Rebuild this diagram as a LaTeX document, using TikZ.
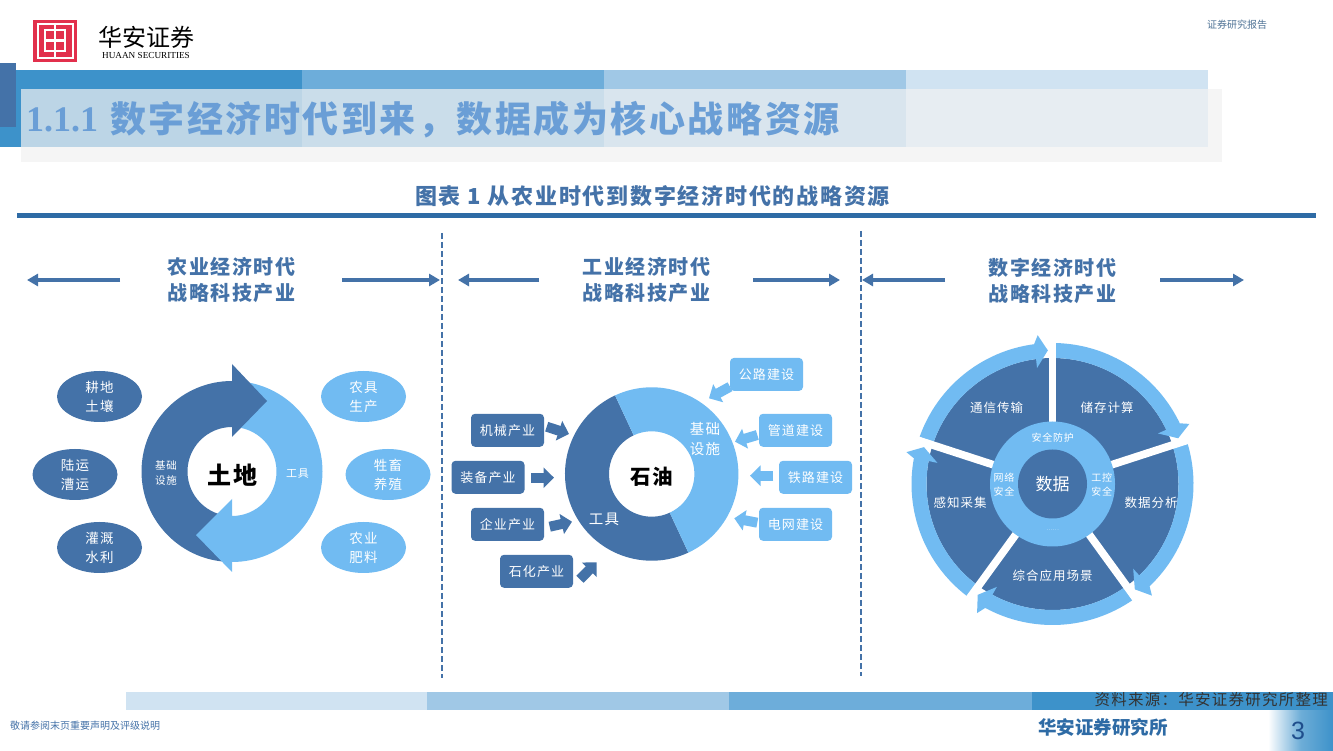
\documentclass[tikz,border=0pt]{standalone}
\usepackage{fontspec}
\setmainfont{Noto Sans CJK SC}
\newfontfamily\lat{Liberation Sans}
\newfontfamily\latser{Liberation Serif}
\newfontfamily\spc[LetterSpace=8]{Noto Sans CJK SC}
\newcommand{\spcb}{\spc\bfseries}
\newfontfamily\titlefont[LetterSpace=7]{Noto Sans CJK SC}
\newfontfamily\titlenum{Liberation Serif}
\usetikzlibrary{arrows.meta,shapes.geometric}
\definecolor{dk}{HTML}{4472A8}
\definecolor{lt}{HTML}{71BBF2}
\definecolor{rule}{HTML}{2E6BA5}
\definecolor{b1}{HTML}{3D92CA}
\definecolor{b2}{HTML}{6DADDA}
\definecolor{b3}{HTML}{A0C8E6}
\definecolor{b4}{HTML}{D0E3F2}
\definecolor{logored}{HTML}{E2304C}
\definecolor{pgblue}{HTML}{1F4E8C}
\definecolor{ttl}{HTML}{6A9ED6}
\newcommand{\fs}[2]{\fontsize{#1}{#2}\selectfont}
\tikzset{
  x=1pt,y=1pt,
  lab/.style={inner sep=0pt,align=center,text=white},
  el/.style={ellipse,minimum width=85pt,minimum height=51pt,inner sep=0pt,align=center,text=white,font=\fs{13.5}{19}\spc},
  rbox/.style={rounded corners=4pt,minimum width=73pt,minimum height=33pt,inner sep=0pt,align=center,text=white,font=\fs{13}{15}\spc},
  head/.style={inner sep=0pt,align=center,text=dk,font=\fs{20}{26}\spcb},
  bar/.style={dk,line width=3.3pt,-{Triangle[length=11pt,width=12pt]}},
  blk/.style={line width=10pt,-{Triangle[length=10.5pt,width=20pt]}},
  divider/.style={dk,line width=2.4pt,dash pattern=on 6pt off 3pt},
}
% annular sector about the current origin
\newcommand{\ring}[5]{\fill[#1] (#2:#4) arc[start angle=#2,end angle=#3,radius=#4] -- (#3:#5) arc[start angle=#3,end angle=#2,radius=#5] -- cycle;}
\newcommand{\segm}[1]{%
  \begin{scope}[rotate=#1]
    \fill[lt] (271.5:126) arc[start angle=271.5,end angle=334.5,radius=126] -- (334.4:117) -- (340:133.7) -- (336.3:149.5) -- (334.5:141) arc[start angle=334.5,end angle=271.5,radius=141] -- cycle;
  \end{scope}}
\begin{document}
\begin{tikzpicture}[yshift=750pt,yscale=-1]
\useasboundingbox (0,0) rectangle (1333,750);
\fill[white] (0,0) rectangle (1333,750);
% ---- header bands
\fill[b1] (16,70) rectangle (302,147);
\fill[b2] (302,70) rectangle (604,147);
\fill[b3] (604,70) rectangle (906,147);
\fill[b4] (906,70) rectangle (1208,147);
\fill[b1] (0,127) rectangle (21,147);
\fill[dk] (0,63) rectangle (16,127);
\fill[black!5,opacity=.7] (21,89) rectangle (1222,162);
\node[anchor=west,inner sep=0pt,text=ttl,font=\fs{36}{36}\titlenum\bfseries] (num) at (26,120) {1.1.1};
\node[anchor=west,inner sep=0pt,text=ttl,font=\fs{36}{36}\titlefont\bfseries] (title) at (110,120) {数字经济时代到来，数据成为核心战略资源};
% ---- logo
\fill[logored] (33,20) rectangle (77,62);
\draw[white,line width=2pt] (37.5,24) rectangle (73,58.5);
\draw[white,line width=2.4pt] (45,30) rectangle (65,51) (45,40.5) -- (65,40.5) (55,24) -- (55,58.5);
\node[inner sep=0pt,text=black,font=\fs{24}{24}] (logocn) at (146,37) {华安证券};
\node[inner sep=0pt,text=black,font=\fs{9.2}{10}\latser] (logoen) at (146,56) {HUAAN SECURITIES};
\node[inner sep=0pt,text=rule!60!gray,font=\fs{10}{10}] (rep) at (1237,25) {证券研究报告};
% ---- caption
\node[inner sep=0pt,text=dk,font=\fs{22}{22}\spcb] (cap) at (652.5,196) {图表 1 从农业时代到数字经济时代的战略资源};
\fill[rule] (17,213) rectangle (1316,218);
% ---- dividers
\coordinate (d1a) at (442,233); \coordinate (d1b) at (442,678);
\coordinate (d2a) at (861,231); \coordinate (d2b) at (861,676);
\draw[divider] (d1a) -- (d1b);
\draw[divider] (d2a) -- (d2b);
% ---- heads
\node[head] (h1) at (231.5,279.5) {农业经济时代\\战略科技产业};
\node[head] (h2) at (646.5,279.5) {工业经济时代\\战略科技产业};
\node[head] (h3) at (1052.5,280.5) {数字经济时代\\战略科技产业};
\coordinate (a1) at (27,280); \coordinate (a1s) at (120,280);
\coordinate (a2) at (440,280); \coordinate (a2s) at (342,280);
\coordinate (a3) at (458,280); \coordinate (a3s) at (539,280);
\coordinate (a4) at (840,280); \coordinate (a4s) at (753,280);
\coordinate (a5) at (862,280); \coordinate (a5s) at (945,280);
\coordinate (a6) at (1244,280); \coordinate (a6s) at (1160,280);
\draw[bar] (a1s) -- (a1); \draw[bar] (a2s) -- (a2);
\draw[bar] (a3s) -- (a3); \draw[bar] (a4s) -- (a4);
\draw[bar] (a5s) -- (a5); \draw[bar] (a6s) -- (a6);
% ---- left ring
\begin{scope}[shift={(232,471.5)}]
  \ring{dk}{90}{270}{90.5}{44.5}
  \ring{lt}{270}{450}{90.5}{44.5}
  \fill[dk] (0,-107.5) -- (35,-70.5) -- (0,-34.5) -- cycle;
  \fill[lt] (0,27.5) -- (-36,63.5) -- (0,100.5) -- cycle;
\end{scope}
\node[inner sep=0pt,text=black,font=\fs{24}{24}\spcb] (land) at (232.5,475) {土地};
\node[lab,font=\fs{10.5}{15}\spc] (l1) at (166,473.5) {基础\\设施};
\node[lab,font=\fs{11}{15}\spc] (l2) at (297.5,474) {工具};
\node[el,fill=dk] (e1) at (99.5,396.5) {耕地\\土壤};
\node[el,fill=dk] (e2) at (75,474.5) {陆运\\漕运};
\node[el,fill=dk] (e3) at (99.5,547.5) {灌溉\\水利};
\node[el,fill=lt] (e4) at (363.5,396.5) {农具\\生产};
\node[el,fill=lt] (e5) at (388,474.5) {牲畜\\养殖};
\node[el,fill=lt] (e6) at (363.5,547.5) {农业\\肥料};
% ---- middle donut
\begin{scope}[shift={(651.7,474)}]
  \ring{dk}{65}{245}{86.7}{42.7}
  \ring{lt}{245}{425}{86.7}{42.7}
\end{scope}
\node[inner sep=0pt,text=black,font=\fs{20.5}{20}\spcb] (oil) at (652,477) {石油};
\node[lab,font=\fs{14.5}{20}\spc] (m1) at (705,439) {基础\\设施};
\node[lab,font=\fs{14.5}{20}\spc] (m2) at (604,519) {工具};
\node[rbox,fill=dk] (r1) at (507.5,430.3) {机械产业};
\node[rbox,fill=dk] (r2) at (488,477.3) {装备产业};
\node[rbox,fill=dk] (r3) at (507.5,524.3) {企业产业};
\node[rbox,fill=dk] (r4) at (536.5,571.3) {石化产业};
\node[rbox,fill=lt] (r5) at (766.5,374.4) {公路建设};
\node[rbox,fill=lt] (r6) at (795.5,430.3) {管道建设};
\node[rbox,fill=lt] (r7) at (815.5,477.3) {铁路建设};
\node[rbox,fill=lt] (r8) at (795.5,524.3) {电网建设};
\coordinate (t1) at (546.7,426.7); \coordinate (p1) at (569,434);
\coordinate (t2) at (531,477.7); \coordinate (p2) at (554,477.7);
\coordinate (t3) at (549.7,526.7); \coordinate (p3) at (572,521.7);
\coordinate (t4) at (580,579.3); \coordinate (p4) at (596.7,562.3);
\coordinate (t5) at (730,386.7); \coordinate (p5) at (709,398.3);
\coordinate (t6) at (757.3,435); \coordinate (p6) at (735,441.7);
\coordinate (t7) at (773.3,475.7); \coordinate (p7) at (750,475.7);
\coordinate (t8) at (757.3,522.7); \coordinate (p8) at (734.3,518.3);
\draw[blk,dk] (t1) -- (p1); \draw[blk,dk] (t2) -- (p2);
\draw[blk,dk] (t3) -- (p3); \draw[blk,dk] (t4) -- (p4);
\draw[blk,lt] (t5) -- (p5); \draw[blk,lt] (t6) -- (p6);
\draw[blk,lt] (t7) -- (p7); \draw[blk,lt] (t8) -- (p8);
% ---- right wheel
\begin{scope}[shift={(1052.5,484)}]
  \fill[dk] (0,0) circle[radius=126];
  \segm{0}\segm{72}\segm{144}\segm{216}\segm{288}
  \foreach \a in {270,342,54,126,198}
    \draw[white,line width=7.7pt] (\a:40) -- (\a:146);
  \fill[lt] (0,0) circle[radius=62.5];
  \fill[dk] (0,0) circle[radius=34.5];
\end{scope}
\node[lab,font=\fs{12.5}{14}\spc] (w1) at (996.7,408) {通信传输};
\node[lab,font=\fs{12.5}{14}\spc] (w2) at (1107,408) {储存计算};
\node[lab,font=\fs{12.5}{14}\spc] (w3) at (1151,503) {数据分析};
\node[lab,font=\fs{12.5}{14}\spc] (w4) at (960,503) {感知采集};
\node[lab,font=\fs{12.5}{14}\spc] (w5) at (1052.7,576) {综合应用场景};
\node[lab,font=\fs{10}{12}\spc] (w6) at (1052.7,437.3) {安全防护};
\node[lab,font=\fs{10}{14}\spc] (w7) at (1004,485) {网络\\安全};
\node[lab,font=\fs{10}{14}\spc] (w8) at (1101.7,485) {工控\\安全};
\node[lab,font=\fs{17}{17}] (w9) at (1052.7,484) {数据};
\node[lab,text=white!70!lt,font=\fs{6}{6}] (w10) at (1052.7,530.5) {……};
% ---- footer
\fill[b4] (126,692) rectangle (427,710);
\fill[b3] (427,692) rectangle (729,710);
\fill[b2] (729,692) rectangle (1032,710);
\fill[b1] (1032,692) rectangle (1333,710);
\shade[left color=white,right color=b1,middle color=b1!75!white] (1268,710) rectangle (1333,750);
\node[anchor=east,inner sep=0pt,text=black!80,font=\fs{15.5}{16}\spc] (src) at (1328,700) {资料来源：华安证券研究所整理};
\node[anchor=west,inner sep=0pt,text=dk,font=\fs{10}{10}] (note) at (10,726) {敬请参阅末页重要声明及评级说明};
\node[inner sep=0pt,text=rule,font=\fs{18.5}{18}\bfseries] (org) at (1103,727) {华安证券研究所};
\node[inner sep=0pt,text=pgblue,font=\fs{25}{25}\lat] (pg) at (1298,730.5) {3};
\end{tikzpicture}
\end{document}
